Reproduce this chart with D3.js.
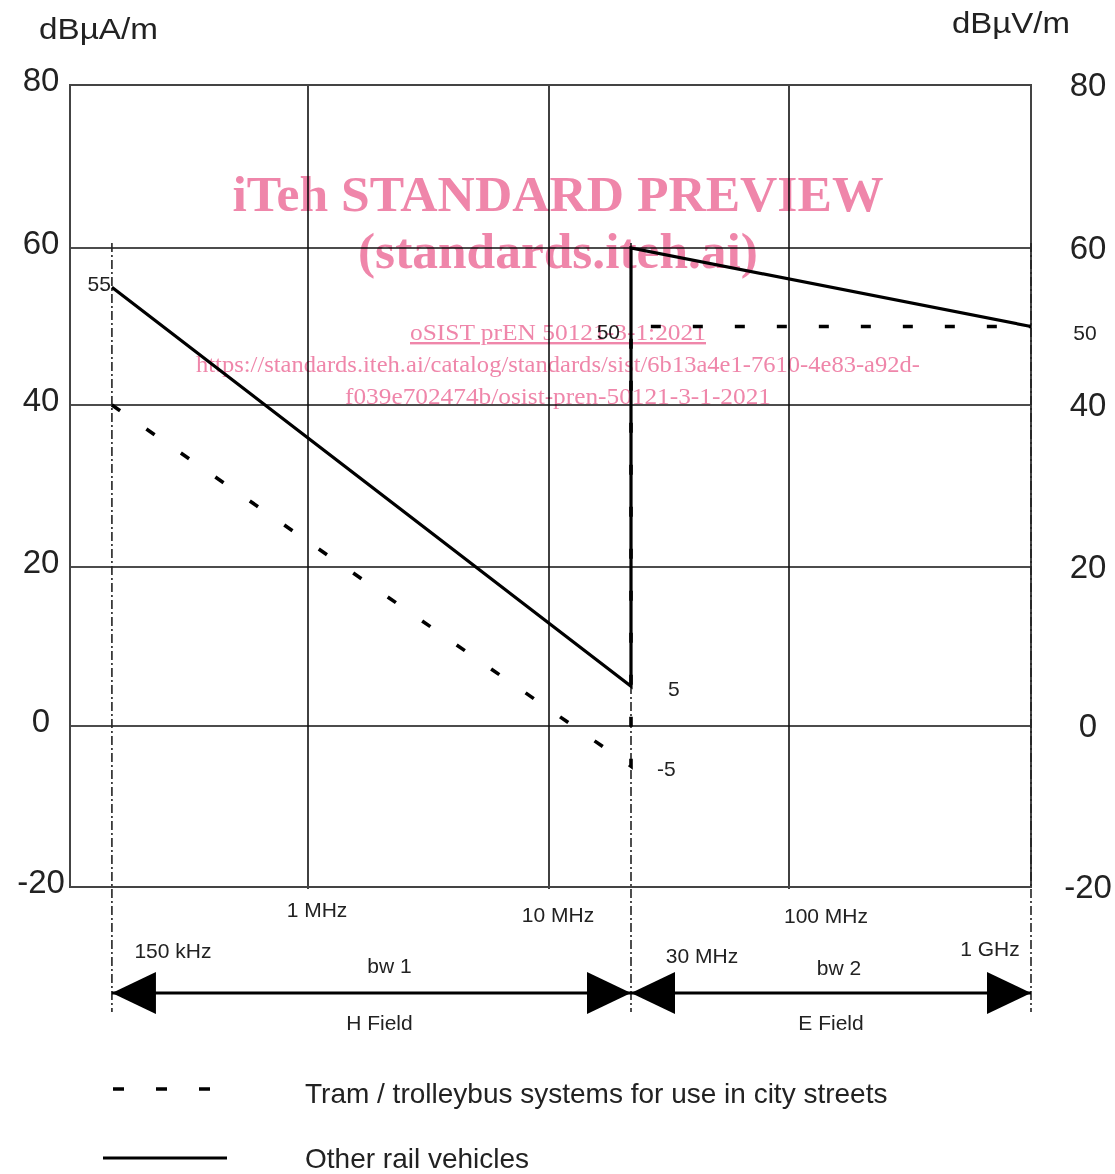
<!DOCTYPE html>
<html>
<head>
<meta charset="utf-8">
<script src="https://cdn.jsdelivr.net/npm/d3@7"></script>
<style>
  html, body { margin: 0; padding: 0; background: #fff; }
  svg { display: block; }
  text { font-family: "Liberation Sans", Arial, sans-serif; fill: #222; }
  .wm { font-family: "Liberation Serif", "Times New Roman", serif; fill: #ef86aa; mix-blend-mode: multiply; }
</style>
</head>
<body>
<svg id="chart" width="1115" height="1174"></svg>
<script>
// ---------------- data ----------------
const yTicks = [80, 60, 40, 20, 0, -20];
const yGrid = [60, 40, 20, 0];
const rightExtraTick = [50];
const xGrid = [1e6, 1e7, 1e8];
const xGridLabels = ["1 MHz", "10 MHz", "100 MHz"];
const bandEdges = [150e3, 30e6, 1e9];
const bandEdgeLabels = ["150 kHz", "30 MHz", "1 GHz"];
const bandNames = ["bw 1", "bw 2"];
const fieldNames = ["H Field", "E Field"];

const otherRailFreq = [150e3, 30e6, 30e6, 1e9];
const otherRailValues = [55, 5, 60, 50];
const tramFreq = [150e3, 30e6, 30e6, 1e9];
const tramValues = [40, -5, 50, 50];

const pointLabels = [
  { f: 150e3, v: 55, text: "55" },
  { f: 30e6, v: 50, text: "50" },
  { f: 30e6, v: 5, text: "5" },
  { f: 30e6, v: -5, text: "-5" }
];
const legendItems = ["Tram / trolleybus systems for use in city streets", "Other rail vehicles"];
const leftUnit = "dBµA/m";
const rightUnit = "dBµV/m";
const watermark = [
  "iTeh STANDARD PREVIEW",
  "(standards.iteh.ai)",
  "oSIST prEN 50121-3-1:2021",
  "https://standards.iteh.ai/catalog/standards/sist/6b13a4e1-7610-4e83-a92d-",
  "f039e702474b/osist-pren-50121-3-1-2021"
];

// ---------------- scales ----------------
const svg = d3.select("#chart");
const x = d3.scaleLog()
  .domain([1e5, 1e6, 1e7, 3e7, 1e8, 1e9])
  .range([70, 308, 549, 631, 789, 1031]);
const y = d3.scaleLinear()
  .domain([-20, 0, 20, 40, 60, 80])
  .range([887, 726, 567, 405, 248, 85]);

// gridlines
svg.append("g").selectAll("line").data(yGrid).join("line")
  .attr("x1", x(1e5)).attr("x2", x(1e9))
  .attr("y1", d => y(d)).attr("y2", d => y(d))
  .attr("stroke", "#111").attr("stroke-width", 1.6);
svg.append("g").selectAll("line").data(xGrid).join("line")
  .attr("x1", d => x(d)).attr("x2", d => x(d))
  .attr("y1", y(80)).attr("y2", y(-20) + 2)
  .attr("stroke", "#111").attr("stroke-width", 1.6);

// frame
svg.append("rect")
  .attr("x", x(1e5)).attr("y", y(80))
  .attr("width", x(1e9) - x(1e5)).attr("height", y(-20) - y(80))
  .attr("fill", "none").attr("stroke", "#444").attr("stroke-width", 2);

// dash-dot band edges
svg.append("g").selectAll("line").data(bandEdges).join("line")
  .attr("x1", d => x(d)).attr("x2", d => x(d))
  .attr("y1", y(60.6)).attr("y2", 1012)
  .attr("stroke", "#222").attr("stroke-width", 1.6)
  .attr("stroke-dasharray", "9,3,2,3");

// left axis labels
svg.append("g").selectAll("text").data(yTicks).join("text")
  .attr("x", 41).attr("y", d => y(d) + 6)
  .attr("text-anchor", "middle")
  .style("font-size", "33px")
  .text(d => d);
// right axis labels
svg.append("g").selectAll("text").data(yTicks).join("text")
  .attr("x", 1088).attr("y", d => y(d) + 11)
  .attr("text-anchor", "middle")
  .style("font-size", "33px")
  .text(d => d);
svg.append("g").selectAll("text").data(rightExtraTick).join("text")
  .attr("x", 1085).attr("y", d => y(d) + 13)
  .attr("text-anchor", "middle")
  .style("font-size", "21px")
  .text(d => d);

// units
svg.append("text").attr("x", 39).attr("y", 39)
  .attr("textLength", 119).attr("lengthAdjust", "spacingAndGlyphs")
  .style("font-size", "30px").text(leftUnit);
svg.append("text").attr("x", 952).attr("y", 33)
  .attr("textLength", 118).attr("lengthAdjust", "spacingAndGlyphs")
  .style("font-size", "30px").text(rightUnit);

// data lines
const line = d3.line().x(d => x(d[0])).y(d => y(d[1]));
svg.append("path")
  .datum(d3.zip(tramFreq, tramValues))
  .attr("d", line)
  .attr("fill", "none").attr("stroke", "#000").attr("stroke-width", 3.6)
  .attr("stroke-dasharray", "10,32");
svg.append("path")
  .datum(d3.zip(otherRailFreq, otherRailValues))
  .attr("d", line)
  .attr("fill", "none").attr("stroke", "#000").attr("stroke-width", 3.2)
  .attr("stroke-linejoin", "miter");

// point labels
const plOffsets = [
  { dx: -1, dy: 4, anchor: "end" },
  { dx: -11, dy: 12, anchor: "end" },
  { dx: 37, dy: 10, anchor: "start" },
  { dx: 26, dy: 10, anchor: "start" }
];
svg.append("g").selectAll("text").data(pointLabels).join("text")
  .attr("x", (d, i) => x(d.f) + plOffsets[i].dx)
  .attr("y", (d, i) => y(d.v) + plOffsets[i].dy)
  .attr("text-anchor", (d, i) => plOffsets[i].anchor)
  .style("font-size", "21px")
  .text(d => d.text);

// x labels
const xLabelBase = [917, 922, 923];
const xLabelShift = [9, 9, 37];
svg.append("g").selectAll("text").data(xGrid).join("text")
  .attr("x", (d, i) => x(d) + xLabelShift[i]).attr("y", (d, i) => xLabelBase[i])
  .attr("text-anchor", "middle").style("font-size", "21px")
  .text((d, i) => xGridLabels[i]);

const edgeShift = [61, 71, -41];
const edgeBase = [958, 963, 956];
svg.append("g").selectAll("text").data(bandEdges).join("text")
  .attr("x", (d, i) => x(d) + edgeShift[i]).attr("y", (d, i) => edgeBase[i])
  .attr("text-anchor", "middle").style("font-size", "21px")
  .text((d, i) => bandEdgeLabels[i]);

// band arrows
const arrowY = 993;
svg.append("line")
  .attr("x1", x(bandEdges[0])).attr("x2", x(bandEdges[2]))
  .attr("y1", arrowY).attr("y2", arrowY)
  .attr("stroke", "#000").attr("stroke-width", 3);
const heads = [
  { f: bandEdges[0], dir: 1 },
  { f: bandEdges[1], dir: -1 },
  { f: bandEdges[1], dir: 1 },
  { f: bandEdges[2], dir: -1 }
];
svg.append("g").selectAll("path").data(heads).join("path")
  .attr("d", d => {
    const tx = x(d.f), bx = tx + d.dir * 44;
    return `M${tx},${arrowY} L${bx},${arrowY - 21} L${bx},${arrowY + 21} Z`;
  })
  .attr("fill", "#000");

const bands = [[bandEdges[0], bandEdges[1]], [bandEdges[1], bandEdges[2]]];
const bwShift = [18, 8];
svg.append("g").selectAll("text").data(bands).join("text")
  .attr("x", (d, i) => (x(d[0]) + x(d[1])) / 2 + bwShift[i]).attr("y", (d, i) => 973 + i * 2)
  .attr("text-anchor", "middle").style("font-size", "21px")
  .text((d, i) => bandNames[i]);
const fieldShift = [8, 0];
svg.append("g").selectAll("text").data(bands).join("text")
  .attr("x", (d, i) => (x(d[0]) + x(d[1])) / 2 + fieldShift[i]).attr("y", 1030)
  .attr("text-anchor", "middle").style("font-size", "21px")
  .text((d, i) => fieldNames[i]);

// legend
svg.append("line")
  .attr("x1", 113).attr("x2", 215).attr("y1", 1089).attr("y2", 1089)
  .attr("stroke", "#000").attr("stroke-width", 3.4)
  .attr("stroke-dasharray", "11,32");
svg.append("line")
  .attr("x1", 103).attr("x2", 227).attr("y1", 1158).attr("y2", 1158)
  .attr("stroke", "#000").attr("stroke-width", 3.2);
svg.append("g").selectAll("text").data(legendItems).join("text")
  .attr("x", 305).attr("y", (d, i) => 1103 + i * 65)
  .style("font-size", "28px")
  .text(d => d);

// watermark
const wm = [
  { y: 211, size: 50, weight: "bold", len: 651 },
  { y: 268, size: 50, weight: "bold", len: 400 },
  { y: 340, size: 24, weight: "normal", len: 296 },
  { y: 372, size: 24, weight: "normal", len: 724 },
  { y: 404, size: 24, weight: "normal", len: 426 }
];
svg.append("g").selectAll("text").data(watermark).join("text")
  .attr("class", "wm")
  .attr("x", 558).attr("y", (d, i) => wm[i].y)
  .attr("text-anchor", "middle")
  .attr("textLength", (d, i) => wm[i].len).attr("lengthAdjust", "spacingAndGlyphs")
  .style("font-size", (d, i) => wm[i].size + "px")
  .style("font-weight", (d, i) => wm[i].weight)
  .style("text-decoration", (d, i) => i === 2 ? "underline" : "none")
  .text(d => d);
</script>
</body>
</html>
